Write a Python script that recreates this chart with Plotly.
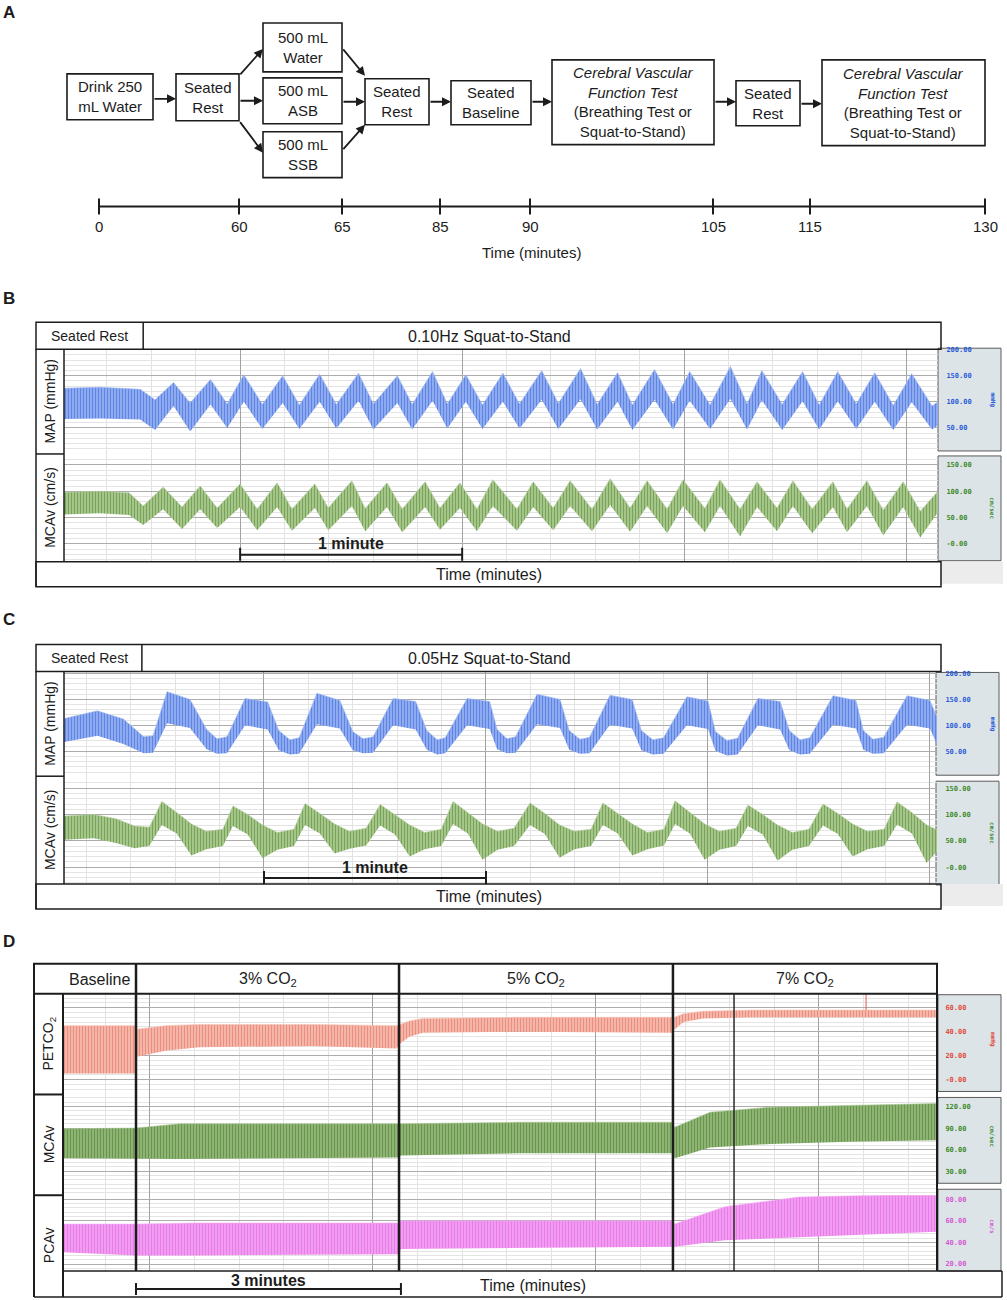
import plotly.graph_objects as go

W, H = 1007, 1300


def px(x):
    return x / W


def py(y):
    return 1 - y / H


FONT = "Liberation Sans, Arial, sans-serif"
MONO = "DejaVu Sans Mono, monospace"
INK = "#1c1c1c"

# ==========================================================
# Data
# ==========================================================

# A: protocol
protocol_steps = [
    "Drink 250<br>mL Water",
    "Seated<br>Rest",
    "500 mL<br>Water",
    "500 mL<br>ASB",
    "500 mL<br>SSB",
    "Seated<br>Rest",
    "Seated<br>Baseline",
    "<i>Cerebral Vascular</i><br><i>Function Test</i><br>(Breathing Test or<br>Squat-to-Stand)",
    "Seated<br>Rest",
    "<i>Cerebral Vascular</i><br><i>Function Test</i><br>(Breathing Test or<br>Squat-to-Stand)",
]
timeline_minutes = [0, 60, 65, 85, 90, 105, 115, 130]

# B: 0.10 Hz squat-to-stand (time in s), beat-to-beat envelope
b_rest_end = 33.8
b_map_t = [12.4, 22, 33, 37, 42, 46.5, 52, 56.5, 61, 66, 71.5, 76, 81.5, 86, 92, 96,
           102.5, 106.5, 112, 116, 121, 125.5, 131, 135.5, 141.5, 146, 152, 156.5, 162,
           166, 172, 177, 181.5, 187, 192.5, 197, 201, 206.5, 212, 216.5, 221.5, 226.5,
           231.5, 236.5, 241.5, 247, 248.6]
b_map_hi = [126, 128, 124, 104, 137, 98, 143, 96, 152, 95, 150, 94, 153, 95, 155, 96,
            150, 95, 158, 96, 152, 94, 155, 96, 160, 97, 164, 95, 156, 94, 162, 95, 158,
            94, 168, 96, 160, 95, 158, 94, 158, 96, 156, 93, 154, 92, 100]
b_map_lo = [67, 68, 66, 46, 92, 43, 95, 50, 100, 48, 98, 48, 100, 49, 102, 47, 98, 47,
            102, 49, 100, 48, 100, 49, 104, 48, 105, 47, 100, 46, 104, 47, 102, 48, 106,
            47, 103, 46, 101, 47, 101, 48, 100, 46, 99, 47, 55]

b_mca_t = [12.4, 22, 30, 33.8, 39.2, 44.3, 49.2, 53.8, 60, 64.6, 70, 74, 80.2, 83.8,
           90.2, 93.8, 99.7, 103.8, 110, 114, 119.4, 124, 128.3, 134.8, 139.2, 144.6,
           149.2, 155.1, 160, 165.4, 170, 175.4, 179.7, 185.6, 189.7, 195.1, 199.7,
           205.1, 209.4, 214.6, 220.2, 224, 229.4, 233.8, 239.2, 243.8, 248.6]
b_mca_hi = [98, 100, 97, 72, 108, 70, 110, 68, 114, 66, 116, 66, 114, 68, 120, 67, 116,
            66, 118, 68, 116, 66, 122, 66, 118, 68, 120, 66, 124, 68, 120, 66, 122, 67,
            122, 66, 118, 68, 120, 66, 118, 66, 120, 64, 118, 62, 100]
b_mca_lo = [56, 58, 55, 36, 66, 28, 66, 30, 70, 26, 70, 25, 68, 26, 72, 24, 70, 22, 70,
            27, 68, 24, 72, 25, 70, 26, 72, 24, 74, 23, 72, 20, 72, 22, 72, 14, 70, 24,
            72, 20, 70, 22, 72, 16, 70, 12, 60]

# C: 0.05 Hz squat-to-stand
c_rest_end = 27.0
c_map_t = [6, 15, 22,
           27.5, 30, 33.8, 40, 44.5,
           47.3, 50, 54.9, 61, 64,
           67, 69.5, 74.3, 80.5, 84,
           86.8, 89.5, 94.9, 101, 104,
           106.8, 109, 114.9, 121, 123,
           125.7, 128, 133.8, 140, 142.5,
           145.4, 148, 153.5, 159.5, 162,
           165.1, 168, 174.3, 180, 182,
           185.1, 188, 193.5, 199.5, 202,
           204.9, 207.5, 213.8, 220, 222,
           224.6, 227.5, 233.8, 240, 242.2]
c_map_hi = [113, 128, 112,
            78, 80, 165, 150, 92,
            74, 78, 152, 145, 90,
            72, 76, 162, 148, 88,
            74, 78, 152, 146, 90,
            72, 76, 152, 146, 92,
            74, 78, 160, 150, 90,
            73, 77, 158, 150, 90,
            72, 76, 155, 147, 88,
            71, 75, 152, 146, 90,
            72, 76, 157, 148, 90,
            73, 77, 157, 148, 110]
c_map_lo = [68, 80, 64,
            46, 47, 104, 95, 54,
            45, 46, 100, 92, 52,
            44, 45, 102, 94, 52,
            46, 47, 100, 92, 53,
            44, 46, 100, 93, 54,
            46, 47, 102, 95, 53,
            45, 46, 101, 94, 52,
            44, 45, 100, 93, 51,
            42, 44, 100, 92, 52,
            44, 45, 101, 94, 53,
            45, 46, 101, 94, 58]

c_mca_t = [6, 14, 20, 25, 29,
           32.4, 36.4, 40.4, 44.4, 48.9,
           51.6, 55.6, 59.6, 63.6, 68.1,
           71.1, 75.1, 79.1, 83.1, 87.6,
           91.4, 95.4, 99.4, 103.4, 107.9,
           111.1, 115.1, 119.1, 123.1, 127.6,
           131.9, 135.9, 139.9, 143.9, 148.4,
           151.6, 155.6, 159.6, 163.6, 168.1,
           171.1, 175.1, 179.1, 183.1, 187.6,
           190.8, 194.8, 198.8, 202.8, 207.3,
           211.1, 215.1, 219.1, 223.1, 227.6,
           231.1, 235.1, 239.1, 242.2]
c_mca_hi = [97, 100, 92, 78, 76,
            125, 104, 82, 68, 72,
            116, 100, 80, 66, 72,
            121, 102, 82, 68, 74,
            119, 100, 80, 66, 72,
            125, 104, 82, 68, 74,
            122, 102, 80, 68, 72,
            122, 102, 82, 66, 72,
            126, 104, 82, 68, 74,
            118, 100, 80, 66, 72,
            120, 102, 82, 68, 72,
            124, 104, 80, 70]
c_mca_lo = [52, 55, 46, 36, 40,
            80, 64, 22, 34, 40,
            78, 62, 17, 33, 40,
            80, 64, 26, 35, 41,
            79, 62, 20, 34, 40,
            82, 64, 14, 33, 40,
            80, 63, 18, 34, 40,
            80, 64, 22, 34, 41,
            82, 64, 14, 33, 40,
            78, 62, 12, 33, 40,
            79, 63, 20, 34, 40,
            81, 64, 8, 32]

# D: breathing test (time in s from start of 3% CO2)
d_phase_names = ["Baseline", "3% CO<sub>2</sub>", "5% CO<sub>2</sub>", "7% CO<sub>2</sub>"]
d_phase_edges = [0, 178.7, 364.8]
d_event_t = 406.3
d_spike_t = [496, 496]
d_spike_v = [58, 72]

d_pet_t = [-49.6, -0.5, 0.5, 20, 43, 120, 177, 179.5, 186, 195, 260, 364, 366, 372, 385, 420, 544.2]
d_pet_hi = [45, 45, 42, 45, 46, 46, 45, 46, 49, 51, 52, 52, 52, 55, 57, 58, 58]
d_pet_lo = [5, 5, 19, 24, 27, 28, 26, 30, 36, 39, 40, 39, 42, 48, 51, 52, 52]

d_mca_t = [-49.6, 0, 30, 100, 178, 180, 260, 364, 366, 390, 431, 485, 544.2]
d_mca_hi = [89, 90, 96, 96, 95, 96, 98, 98, 91, 112, 119, 121, 124]
d_mca_lo = [48, 47, 47, 48, 49, 52, 55, 55, 48, 63, 68, 71, 73]

d_pca_t = [-49.6, 0, 40, 178, 180, 364, 366, 400, 450, 544.2]
d_pca_hi = [57, 57, 58, 58, 60, 60, 57, 73, 82, 85]
d_pca_lo = [31, 28, 28, 29, 34, 36, 36, 42, 45, 50]

# scale labels
map_ticks = [50, 100, 150, 200]
mca_ticks = [0, 50, 100, 150]
pet_ticks = [0, 20, 40, 60]
dmca_ticks = [30, 60, 90, 120]
pca_ticks = [20, 40, 60, 80]

# ==========================================================
# Figure
# ==========================================================

fig = go.Figure()
shapes = []
annos = []


def seg(x0, y0, x1, y1, width=1.5, color=INK):
    shapes.append(dict(type="line", xref="paper", yref="paper", x0=px(x0), x1=px(x1),
                       y0=py(y0), y1=py(y1), line=dict(color=color, width=width), layer="above"))


def rect(x0, y0, x1, y1, width=1.5, color=INK, fill="rgba(0,0,0,0)", layer="above"):
    shapes.append(dict(type="rect", xref="paper", yref="paper", x0=px(x0), x1=px(x1),
                       y0=py(y1), y1=py(y0), line=dict(color=color, width=width),
                       fillcolor=fill, layer=layer))


def text(x, y, s, size=14, color=INK, angle=0, family=FONT, xref="paper"):
    annos.append(dict(x=px(x) if xref == "paper" else x, y=py(y), xref=xref, yref="paper",
                      text=s, showarrow=False, textangle=angle, xanchor="center", yanchor="middle",
                      font=dict(family=family, size=size, color=color)))


def arrow(x0, y0, x1, y1):
    annos.append(dict(x=px(x1), y=py(y1), xref="paper", yref="paper", ax=x0 - x1, ay=y0 - y1,
                      text="", showarrow=True, arrowhead=2, arrowsize=1, arrowwidth=1.8,
                      arrowcolor=INK, standoff=0, startstandoff=0))


def band(t, hi, lo, n, fg, bg, size=3, solidity=0.5):
    xa = "x" if n == 1 else f"x{n}"
    ya = "y" if n == 1 else f"y{n}"
    fig.add_trace(go.Scatter(x=t, y=lo, xaxis=xa, yaxis=ya, mode="lines",
                             line=dict(width=0, color=fg), hoverinfo="skip", showlegend=False))
    fig.add_trace(go.Scatter(x=t, y=hi, xaxis=xa, yaxis=ya, mode="lines",
                             line=dict(width=0.6, color=bg), fill="tonexty", fillcolor=bg,
                             fillpattern=dict(shape="|", fgcolor=fg, bgcolor=bg, size=size,
                                              solidity=solidity),
                             hoverinfo="skip", showlegend=False))


axes = {}


def signal_axes(n, x0, x1, y0, y1, xrange, yrange, xgrid, yticks, yminor, color):
    xk = "xaxis" if n == 1 else f"xaxis{n}"
    yk = "yaxis" if n == 1 else f"yaxis{n}"
    axes[xk] = dict(domain=[px(x0), px(x1)], range=xrange, anchor="y" if n == 1 else f"y{n}",
                    showticklabels=False, ticks="", zeroline=False, showline=False,
                    tick0=xgrid[0], dtick=xgrid[1], showgrid=True, gridcolor="#a2a2a2",
                    minor=dict(tick0=xgrid[0], dtick=xgrid[2], showgrid=True, gridcolor="#e2e2e2"))
    labels = [("<b>-0.00</b>" if v == 0 else f"<b>{v:.2f}</b>") for v in yticks]
    axes[yk] = dict(domain=[py(y1), py(y0)], range=yrange, anchor="x" if n == 1 else f"x{n}",
                    side="right", tickmode="array", tickvals=yticks, ticktext=labels,
                    tickfont=dict(family=MONO, size=7, color=color), ticks="outside",
                    ticklen=6, tickcolor="rgba(0,0,0,0)", zeroline=False, showline=False,
                    showgrid=True, gridcolor="#acacac",
                    minor=dict(tickmode="linear", tick0=0, dtick=yminor, showgrid=True,
                               gridcolor="#e4e4e4"))


BLUE, BLUE_L = "#2350d8", "#9db8f2"
GREEN, GREEN_L = "#3b7a18", "#b4cf9c"
RED, RED_L = "#e25a48", "#f7c2b6"
MAG, MAG_L = "#e04ee0", "#f5aaf5"

# ---------- panel B ----------
signal_axes(1, 64, 938, 347, 452, [12.4, 248.6], [0, 201], (0, 60, 12), map_ticks, 10, "#2a5bd8")
signal_axes(2, 64, 938, 452, 560, [12.4, 248.6], [-34, 171], (0, 60, 12), mca_ticks, 10, "#3c8a2a")
band(b_map_t, b_map_hi, b_map_lo, 1, BLUE, BLUE_L)
band(b_mca_t, b_mca_hi, b_mca_lo, 2, GREEN, GREEN_L)

# ---------- panel C ----------
signal_axes(3, 64, 937, 671, 776, [5.95, 241.9], [0, 202], (0, 60, 12), map_ticks, 10, "#2a5bd8")
signal_axes(4, 64, 937, 776, 884, [5.95, 241.9], [-34, 171], (0, 60, 12), mca_ticks, 10, "#3c8a2a")
band(c_map_t, c_map_hi, c_map_lo, 3, BLUE, BLUE_L)
band(c_mca_t, c_mca_hi, c_mca_lo, 4, GREEN, GREEN_L)

# ---------- panel D ----------
signal_axes(5, 63, 937, 993, 1094, [-49.6, 544.2], [-12.5, 71.7], (9.5, 151.5, 30.3), pet_ticks, 4, "#e04a3a")
signal_axes(6, 63, 937, 1094, 1195, [-49.6, 544.2], [-3.2, 136.6], (9.5, 151.5, 30.3), dmca_ticks, 6, "#3c8a2a")
signal_axes(7, 63, 937, 1195, 1271, [-49.6, 544.2], [13.5, 83.7], (9.5, 151.5, 30.3), pca_ticks, 4, "#d45ad4")
band(d_pet_t, d_pet_hi, d_pet_lo, 5, RED, RED_L, size=3, solidity=0.5)
band(d_mca_t, d_mca_hi, d_mca_lo, 6, "#2a660a", "#a6c68e", size=3, solidity=0.6)
band(d_pca_t, d_pca_hi, d_pca_lo, 7, "#e048e0", "#f4b0f4", size=3, solidity=0.6)
fig.add_trace(go.Scatter(x=d_spike_t, y=d_spike_v, xaxis="x5", yaxis="y5", mode="lines",
                         line=dict(color=RED, width=1), hoverinfo="skip", showlegend=False))

# ==========================================================
# Panel A: flowchart
# ==========================================================

box_px = [(67, 71, 153, 117), (176, 71, 239, 118), (263, 20, 342, 69), (263, 75, 342, 121),
          (263, 129, 342, 175), (365, 76, 429, 122), (451, 78, 531, 122), (552, 57, 714, 142),
          (736, 78, 800, 123), (822, 57, 985, 143)]
for (x0, y0, x1, y1), s in zip(box_px, protocol_steps):
    rect(x0, y0, x1, y1, width=1.6)
    text((x0 + x1) / 2, (y0 + y1) / 2, s, size=15)

for a in [(153, 96, 176, 96), (239, 73, 263, 46), (239, 98, 263, 98), (239, 118, 263, 150),
          (342, 45, 365, 73), (342, 99, 365, 99), (342, 148, 365, 122), (429, 99, 451, 99),
          (531, 99, 552, 99), (714, 99, 736, 99), (800, 101, 822, 101)]:
    arrow(*a)

tick_px = [99, 239, 342, 440, 530, 713, 810, 985]
seg(99, 204, 985, 204, width=2)
for xp, m in zip(tick_px, timeline_minutes):
    seg(xp, 196, xp, 212, width=2)
    text(xp, 224, str(m), size=15)
text(531, 250, "Time (minutes)", size=15)

# panel letters
for s, yy in [("A", 10), ("B", 296), ("C", 618), ("D", 941)]:
    text(9, yy, f"<b>{s}</b>", size=17)

# ==========================================================
# Panel B / C frames
# ==========================================================

for top, rest_end, xr, title, ax_map, ax_mca, sb in [
        (320, b_rest_end, "x", "0.10Hz Squat-to-Stand", (346, 449), (454, 559), 1001),
        (643, c_rest_end, "x3", "0.05Hz Squat-to-Stand", (671, 774), (780, 884), 999)]:
    hb = top + 27          # header bottom
    mid = hb + 105         # row split
    tb = mid + 108         # time row top
    bot = tb + 25
    # scale boxes
    rect(sb - 63, ax_map[0], sb, ax_map[1], width=1, color="#5a5a5a", fill="#dde4e8", layer="below")
    rect(sb - 63, ax_mca[0], sb, ax_mca[1], width=1, color="#5a5a5a", fill="#dde4e8", layer="below")
    rect(941, tb, 1003, tb + 22, width=0, fill="#ececec", layer="below")
    text(993, (ax_map[0] + ax_map[1]) / 2, "<b>mmHg</b>", size=6, color="#2a5bd8", angle=90, family=MONO)
    text(993, (ax_mca[0] + ax_mca[1]) / 2, "<b>cm/sec</b>", size=6, color="#3c8a2a", angle=90, family=MONO)
    # frame
    rect(36, top, 941, hb)
    shapes.append(dict(type="line", xref=xr, yref="paper", x0=rest_end, x1=rest_end,
                       y0=py(top), y1=py(hb), line=dict(color=INK, width=1.5)))
    seg(36, hb, 36, bot)
    seg(64, hb, 64, tb)
    seg(36, mid, 64, mid)
    rect(36, tb, 941, bot)
    text(89, top + 14, "Seated Rest", size=14)
    text(489, top + 14, title, size=16)
    text(489, tb + 13, "Time (minutes)", size=16)
    text(50, (hb + mid) / 2, "MAP (mmHg)", size=14, angle=-90)
    text(50, (mid + tb) / 2, "MCAv (cm/s)", size=14, angle=-90)

# 1 minute scale bars
for xr, ybar in [("x2", 553), ("x4", 877)]:
    shapes.append(dict(type="line", xref=xr, yref="paper", x0=60, x1=120, y0=py(ybar), y1=py(ybar),
                       line=dict(color=INK, width=2)))
    for tv in (60, 120):
        shapes.append(dict(type="line", xref=xr, yref="paper", x0=tv, x1=tv, y0=py(ybar - 7),
                           y1=py(ybar + 6), line=dict(color=INK, width=2)))
    annos.append(dict(x=90, y=py(ybar - 11), xref=xr, yref="paper", text="<b>1 minute</b>",
                      showarrow=False, xanchor="center", yanchor="middle",
                      font=dict(family=FONT, size=16, color=INK)))

# ==========================================================
# Panel D frame
# ==========================================================

for (y0, y1), unit, col in [((994, 1091), "mmHg", "#e04a3a"), ((1097, 1183), "cm/sec", "#3c8a2a"),
                            ((1189, 1271), "cm/s", "#d45ad4")]:
    rect(938, y0, 1001, y1, width=1, color="#5a5a5a", fill="#dde4e8", layer="below")
    text(993, (y0 + y1) / 2 - 4, f"<b>{unit}</b>", size=6, color=col, angle=90, family=MONO)

rect(34, 963, 937, 993, width=2)
seg(34, 993, 34, 1297, width=2)
seg(63, 993, 63, 1297, width=2)
seg(34, 1094, 63, 1094, width=2)
seg(34, 1195, 63, 1195, width=2)
seg(937, 993, 937, 1271, width=2)
seg(63, 1271, 1002, 1271, width=1.5)
seg(34, 1297, 1002, 1297, width=1.5)
seg(1002, 1271, 1002, 1297, width=1.5)
for e in d_phase_edges:
    shapes.append(dict(type="line", xref="x5", yref="paper", x0=e, x1=e, y0=py(963), y1=py(1271),
                       line=dict(color=INK, width=2.5)))
shapes.append(dict(type="line", xref="x5", yref="paper", x0=d_event_t, x1=d_event_t, y0=py(993),
                   y1=py(1271), line=dict(color="#2a2a2a", width=1.5)))

phase_bounds = [-49.6] + d_phase_edges + [544.2]
for i, name in enumerate(d_phase_names):
    mid_t = (phase_bounds[i] + phase_bounds[i + 1]) / 2
    text(mid_t, 979, name, size=16, xref="x5")

text(49, 1043, "PETCO<sub>2</sub>", size=14, angle=-90)
text(49, 1144, "MCAv", size=14, angle=-90)
text(49, 1245, "PCAv", size=14, angle=-90)
text(533, 1285, "Time (minutes)", size=16)

# 3 minute bar
shapes.append(dict(type="line", xref="x5", yref="paper", x0=0, x1=180, y0=py(1289), y1=py(1289),
                   line=dict(color=INK, width=2)))
for tv in (0, 180):
    shapes.append(dict(type="line", xref="x5", yref="paper", x0=tv, x1=tv, y0=py(1283), y1=py(1295),
                       line=dict(color=INK, width=2)))
annos.append(dict(x=90, y=py(1280), xref="x5", yref="paper", text="<b>3 minutes</b>",
                  showarrow=False, xanchor="center", yanchor="middle",
                  font=dict(family=FONT, size=16, color=INK)))

fig.update_layout(
    width=W,
    height=H,
    autosize=False,
    margin=dict(l=0, r=0, t=0, b=0),
    paper_bgcolor="white",
    plot_bgcolor="white",
    showlegend=False,
    font=dict(family=FONT, color=INK),
    shapes=shapes,
    annotations=annos,
    **axes,
)

fig.write_html("out.html", config={"displayModeBar": False},
               post_script="document.body.style.margin='0px';")
